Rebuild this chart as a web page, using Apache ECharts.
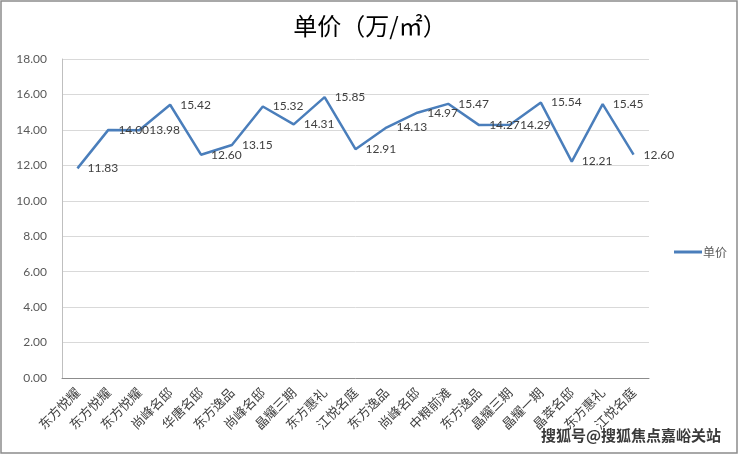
<!DOCTYPE html>
<html>
<head>
<meta charset="utf-8">
<script src="https://cdn.jsdelivr.net/npm/echarts@6/dist/echarts.min.js"></script>
<style>
html, body { margin: 0; padding: 0; background: #fff; }
#main { width: 740px; height: 456px; }
</style>
</head>
<body>
<div id="main"></div>
<script>
var myChart = echarts.init(document.getElementById('main'));

// 楼盘名称
var categories = ['东方悦耀', '东方悦耀', '东方悦耀', '尚峰名邸', '华唐名邸', '东方逸品', '尚峰名邸', '晶耀三期',
    '东方惠礼', '江悦名庭', '东方逸品', '尚峰名邸', '中粮前滩', '东方逸品', '晶耀三期', '晶耀一期', '晶萃名邸',
    '东方惠礼', '江悦名庭'];
// 单价 万/㎡
var prices = [11.83, 14.00, 13.98, 15.42, 12.60, 13.15, 15.32, 14.31, 15.85, 12.91, 14.13, 14.97, 15.47,
    14.27, 14.29, 15.54, 12.21, 15.45, 12.60];
var seriesName = '单价';

var option = {
    backgroundColor: '#fff',
    animation: false,
    title: {
        text: '单价（万/㎡）',
        left: 'center',
        top: 9,
        textStyle: {
            fontFamily: 'Noto Sans CJK SC',
            fontWeight: 'normal',
            fontSize: 24,
            color: '#000'
        }
    },
    legend: {
        data: [{ name: seriesName, icon: 'rect' }],
        orient: 'vertical',
        left: 669,
        top: 241,
        itemWidth: 28,
        itemHeight: 3,
        itemGap: 2,
        textStyle: {
            fontFamily: 'Noto Sans CJK SC',
            fontSize: 12,
            color: '#595959',
            padding: [0, 0, 0, -4]
        }
    },
    grid: {
        left: 62,
        right: 91,
        top: 59,
        bottom: 78
    },
    xAxis: {
        type: 'category',
        data: categories,
        boundaryGap: true,
        axisLine: { lineStyle: { color: '#8c8c8c', width: 1 } },
        axisTick: { show: false },
        axisLabel: {
            interval: 0,
            rotate: 45,
            margin: 12,
            fontFamily: 'Noto Sans CJK SC',
            fontSize: 13,
            color: '#404040'
        }
    },
    yAxis: {
        type: 'value',
        min: 0,
        max: 18,
        interval: 2,
        axisLine: { show: true, lineStyle: { color: '#bfbfbf' } },
        axisTick: { show: false },
        axisLabel: {
            margin: 15,
            fontFamily: 'Lato',
            fontSize: 12,
            color: '#595959',
            formatter: function (v) { return v.toFixed(2); }
        },
        splitLine: { lineStyle: { color: '#d9d9d9', width: 1 } }
    },
    series: [{
        name: seriesName,
        type: 'line',
        data: prices,
        symbol: 'circle',
        symbolSize: 0.1,
        showSymbol: true,
        lineStyle: { color: '#4a7ebb', width: 2.5 },
        itemStyle: { color: '#4a7ebb' },
        label: {
            show: true,
            position: 'right',
            distance: 10,
            offset: [0, 2],
            fontFamily: 'Lato',
            fontSize: 12,
            color: '#404040',
            formatter: function (p) { return p.value.toFixed(2); }
        },
        labelLayout: { hideOverlap: false }
    }],
    graphic: [
        {
            type: 'rect',
            shape: { x: 1, y: 1, width: 736, height: 452 },
            style: { fill: 'none', stroke: '#8c8c8c', lineWidth: 1.5 },
            silent: true
        },
        {
            type: 'text',
            right: 18,
            top: 427,
            style: {
                text: '搜狐号@搜狐焦点嘉峪关站',
                font: 'bold 15px "Noto Sans CJK SC"',
                fill: '#3a3a3a',
                stroke: '#ffffff',
                lineWidth: 2
            },
            silent: true
        }
    ]
};

myChart.setOption(option);
</script>
</body>
</html>
